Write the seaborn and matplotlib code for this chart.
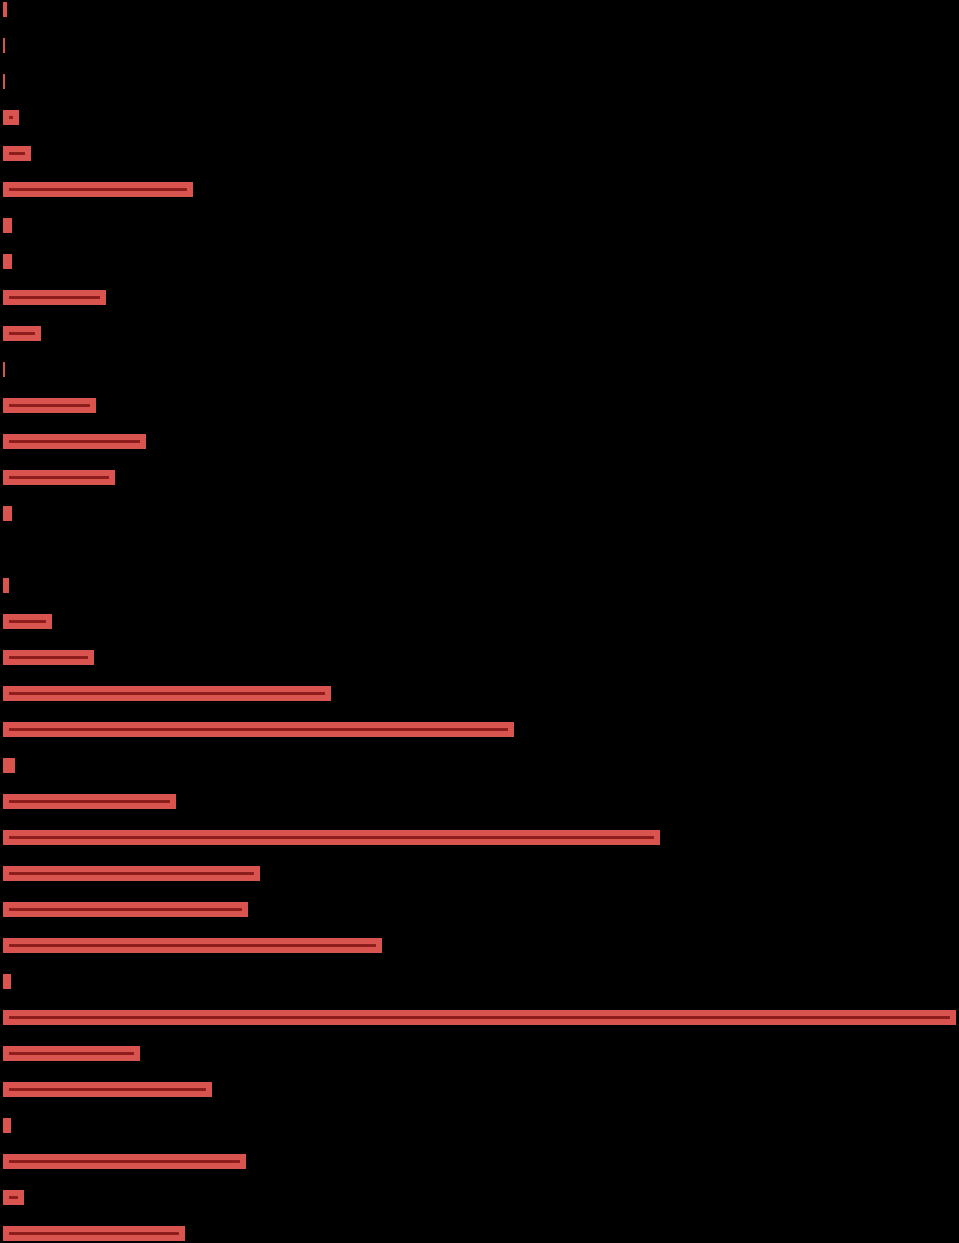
import matplotlib
matplotlib.use("Agg")
import matplotlib.pyplot as plt
import seaborn as sns
import pandas as pd

categories = [f"c{i:02d}" for i in range(35)]
values = [4, 2, 2, 16, 28, 190, 9, 9, 103, 38,
          2, 93.5, 143, 112, 9, 0.6, 6.5, 49, 91, 328,
          511, 12, 173, 657, 257, 245.5, 379.5, 8, 953.5, 137,
          209.5, 8, 243, 21, 182]

bar_red = "#d9534f"
inner_dark = "#8c1c1c"

df = pd.DataFrame({"category": categories, "value": values})

sns.set_theme(style="dark")
fig = plt.figure(figsize=(9.59, 12.43), dpi=100, facecolor="black")
ax = fig.add_axes([0, 0, 1, 1])
ax.set_facecolor("black")

sns.barplot(data=df, x="value", y="category", orient="h", order=categories,
            width=0.40, color=inner_dark, saturation=1, errorbar=None,
            edgecolor=bar_red, linewidth=8.7, ax=ax)

# keep only the inner half of the thick outline (stroke clipped to the bar)
for p in ax.patches:
    p.set_clip_path(p)

vmax = max(values)
ax.set_xlim(-2.5 / 953.5 * vmax, vmax + 3.0 / 953.5 * vmax)
ax.set_ylim(34.26, -0.264)
ax.set_axis_off()

fig.savefig("out.png", dpi=100, facecolor="black")
